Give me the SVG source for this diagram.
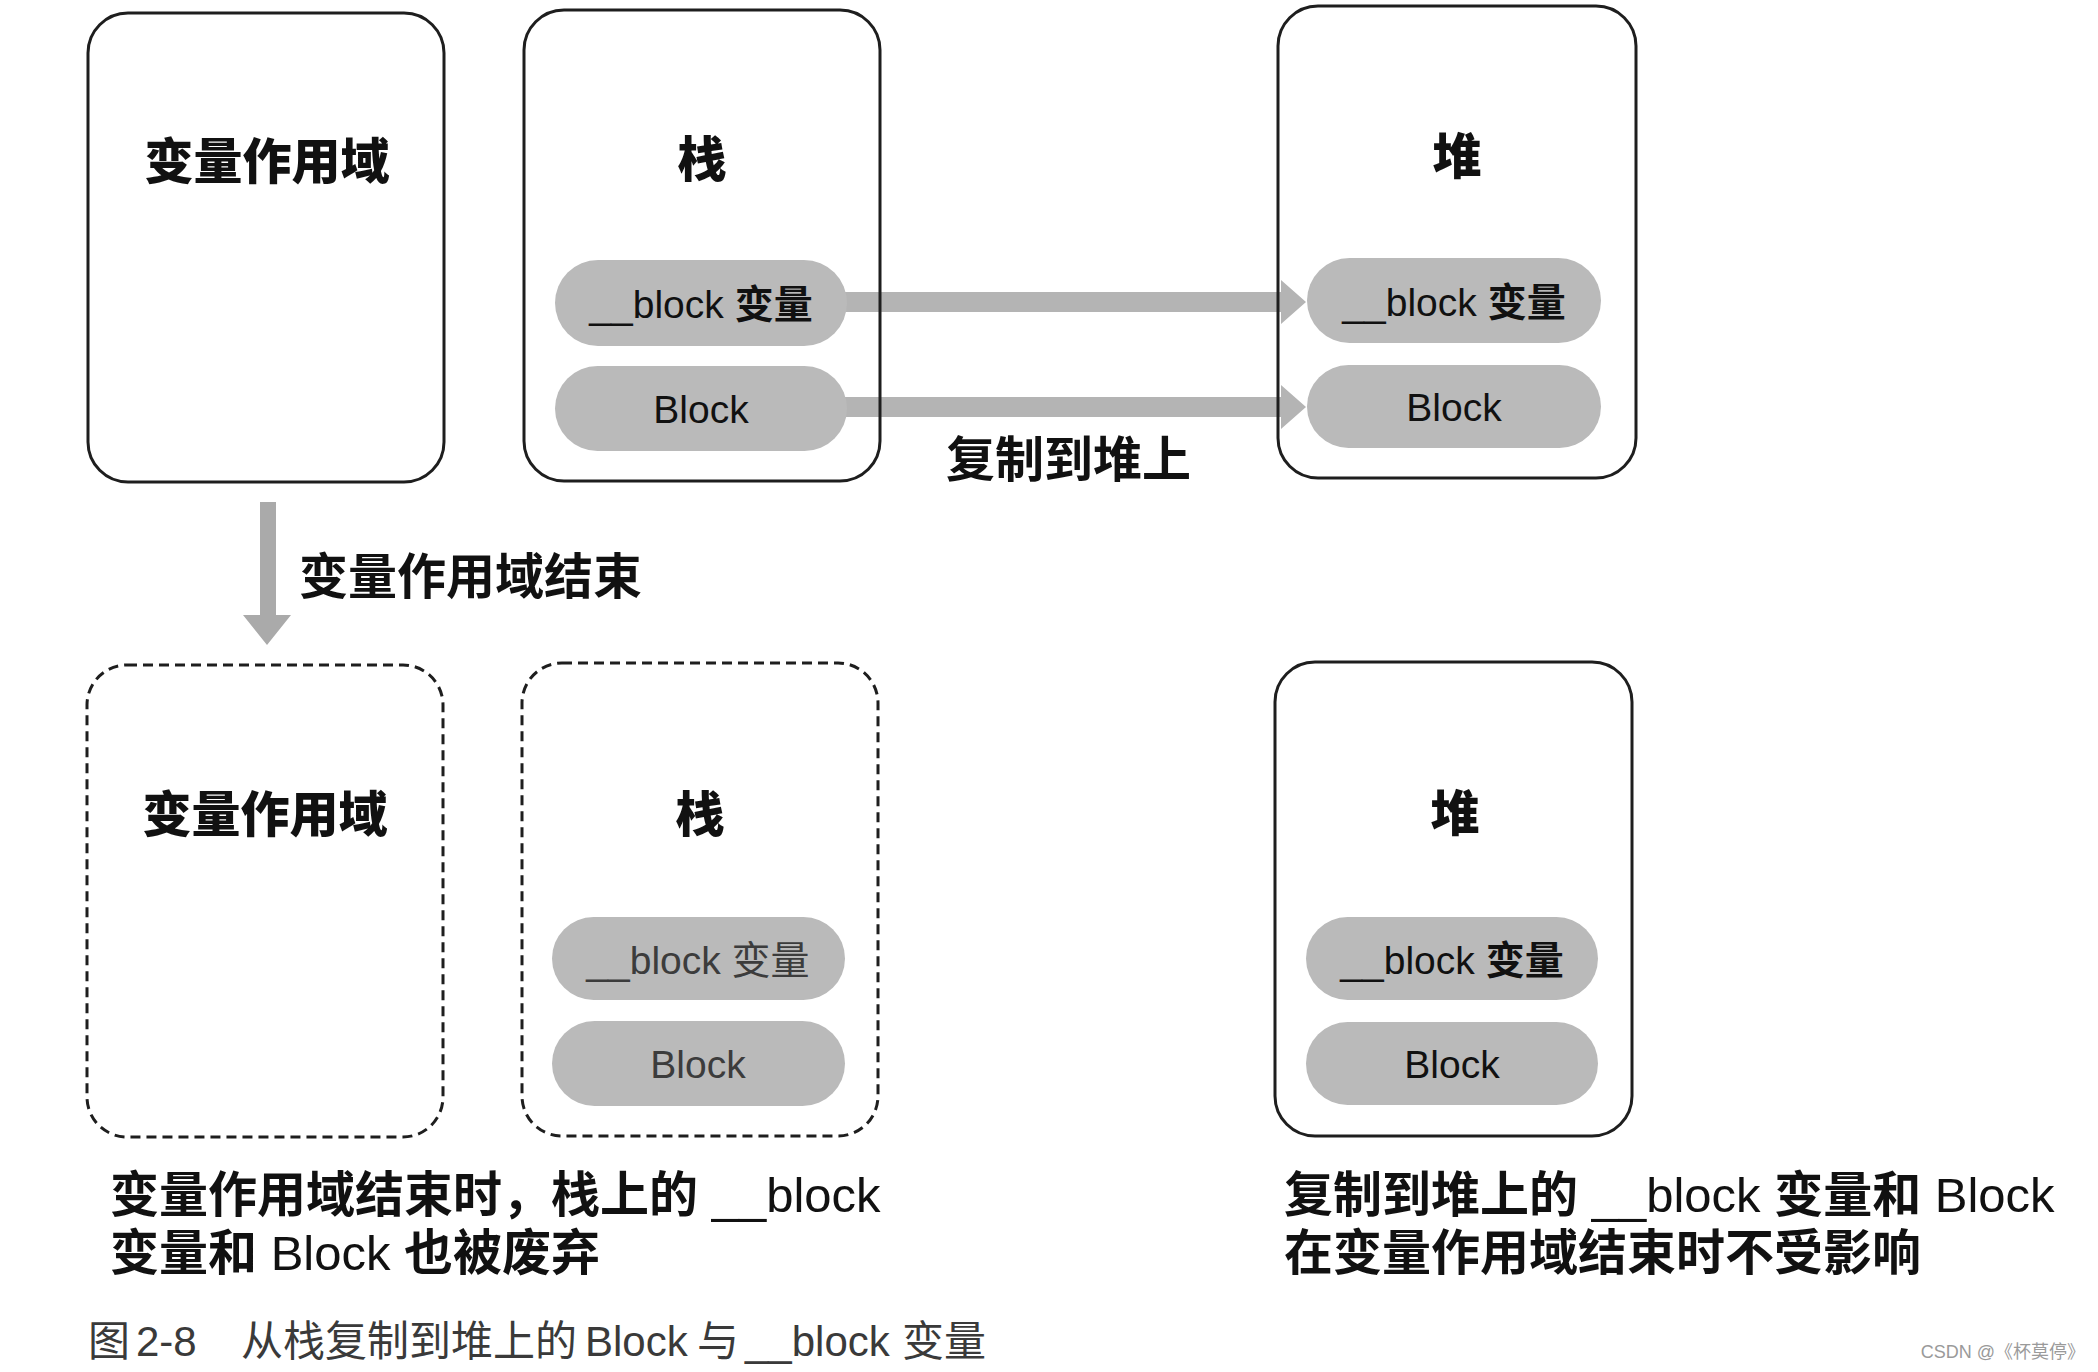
<svg xmlns="http://www.w3.org/2000/svg" width="2098" height="1372" viewBox="0 0 2098 1372">
<style>
.box{fill:none;stroke:#1e1e1e;stroke-width:3}
.dash{stroke-dasharray:10 6}
.pill{fill:#bababa}
.t{font-family:"Liberation Sans","Noto Sans CJK SC",sans-serif;fill:#111}
.title{font-size:49px;font-weight:900;text-anchor:middle}
.lbl{font-size:49px;font-weight:700}
.pt{font-size:39px;text-anchor:middle}
.pale{fill:#3c3c3c}
.b{font-weight:700}
.lat{font-weight:400}
.fig{font-size:42px;fill:#3a3a3a}
.wm{font-size:18px;fill:#9a9a9a;text-anchor:end}
.shaft{fill:#b4b4b4}
</style>
<rect width="2098" height="1372" fill="#ffffff"/>

<g id="connectors">
  <path class="shaft" d="M840,292 H1281 V280 L1306,302 L1281,324 V312 H840 Z"/>
  <path class="shaft" d="M840,397 H1281 V385 L1306,407 L1281,429 V417 H840 Z"/>
  <path d="M260,502 H276 V615 H291 L267,645 L243,615 H260 Z" fill="#aaaaaa"/>
  <text class="t lbl" x="946" y="477">复制到堆上</text>
  <text class="t lbl" x="299" y="594">变量作用域结束</text>
</g>

<g id="scope-top">
  <rect class="box" x="88" y="13" width="356" height="469" rx="40"/>
  <text class="t title" x="267" y="179">变量作用域</text>
</g>

<g id="stack-top">
  <rect class="box" x="524" y="10" width="356" height="471" rx="40"/>
  <text class="t title" x="702" y="177">栈</text>
  <rect class="pill" x="555" y="260" width="292" height="86" rx="43"/>
  <text class="t pt" x="701" y="318">__block <tspan class="b">变量</tspan></text>
  <rect class="pill" x="555" y="366" width="292" height="85" rx="42.5"/>
  <text class="t pt" x="701" y="423">Block</text>
</g>

<g id="heap-top">
  <rect class="box" x="1278" y="6" width="358" height="472" rx="40"/>
  <text class="t title" x="1457" y="174">堆</text>
  <rect class="pill" x="1307" y="258" width="294" height="85" rx="42.5"/>
  <text class="t pt" x="1454" y="316">__block <tspan class="b">变量</tspan></text>
  <rect class="pill" x="1307" y="365" width="294" height="83" rx="41.5"/>
  <text class="t pt" x="1454" y="421">Block</text>
</g>

<g id="scope-bottom">
  <rect class="box dash" x="87" y="665" width="356" height="472" rx="40"/>
  <text class="t title" x="265" y="832">变量作用域</text>
</g>

<g id="stack-bottom">
  <rect class="box dash" x="522" y="663" width="356" height="473" rx="40"/>
  <text class="t title" x="700" y="832">栈</text>
  <rect class="pill" x="552" y="917" width="293" height="83" rx="41.5"/>
  <text class="t pt pale" x="698" y="974">__block 变量</text>
  <rect class="pill" x="552" y="1021" width="293" height="85" rx="42.5"/>
  <text class="t pt pale" x="698" y="1078">Block</text>
</g>

<g id="heap-bottom">
  <rect class="box" x="1275" y="662" width="357" height="474" rx="40"/>
  <text class="t title" x="1455" y="831">堆</text>
  <rect class="pill" x="1306" y="917" width="292" height="83" rx="41.5"/>
  <text class="t pt" x="1452" y="974">__block <tspan class="b">变量</tspan></text>
  <rect class="pill" x="1306" y="1022" width="292" height="83" rx="41.5"/>
  <text class="t pt" x="1452" y="1078">Block</text>
</g>

<g id="caption-left">
  <text class="t lbl" x="110" y="1212">变量作用域结束时，栈上的 <tspan class="lat">__block</tspan></text>
  <text class="t lbl" x="110" y="1270">变量和 <tspan class="lat">Block</tspan> 也被废弃</text>
</g>

<g id="caption-right">
  <text class="t lbl" x="1284" y="1212">复制到堆上的 <tspan class="lat">__block</tspan> 变量和 <tspan class="lat">Block</tspan></text>
  <text class="t lbl" x="1284" y="1270">在变量作用域结束时不受影响</text>
</g>

<g id="figure-caption">
  <text class="t fig" y="1356"><tspan x="88">图</tspan><tspan x="136">2-8</tspan><tspan x="241">从栈复制到堆上的</tspan><tspan x="585">Block</tspan><tspan x="697">与</tspan><tspan x="745">__block</tspan><tspan x="902">变量</tspan></text>
</g>

<g id="watermark">
  <text class="t wm" x="2085" y="1358">CSDN @《杯莫停》</text>
</g>
</svg>
